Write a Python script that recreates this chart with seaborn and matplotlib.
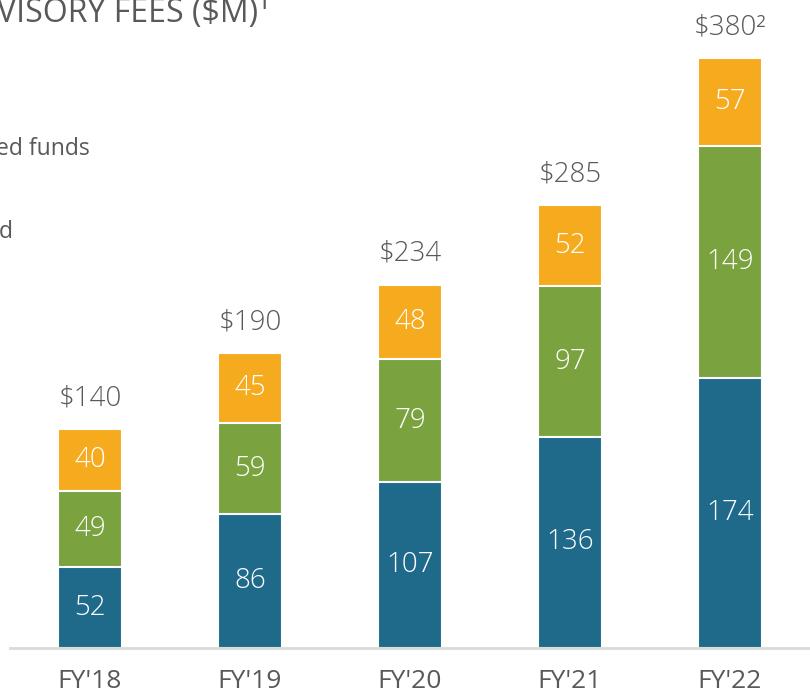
import seaborn as sns
import matplotlib.pyplot as plt
import pandas as pd
import numpy as np

sns.set_style("white")
plt.rcParams['font.family'] = ['Open Sans', 'DejaVu Sans']

# ---- Data ----
years = ["FY'18", "FY'19", "FY'20", "FY'21", "FY'22"]
blue_vals = [52, 86, 107, 136, 174]
green_vals = [49, 59, 79, 97, 149]
orange_vals = [40, 45, 48, 52, 57]
totals = [140, 190, 234, 285, 380]
total_labels = ["$140", "$190", "$234", "$285", "$380²"]

BLUE = "#1f6a8a"
GREEN = "#7aa340"
ORANGE = "#f6aa1e"
GREY = "#595959"

df = pd.DataFrame({"year": years, "blue": blue_vals, "green": green_vals, "orange": orange_vals})
df["bg"] = df["blue"] + df["green"]
df["all"] = df["bg"] + df["orange"]

fig = plt.figure(figsize=(8.1, 6.96), dpi=100)
ax = fig.add_axes([10 / 810, 48 / 696, 800 / 810, 648 / 696])

# stacked bars drawn back to front
for col, color in [("all", ORANGE), ("bg", GREEN), ("blue", BLUE)]:
    sns.barplot(data=df, x="year", y=col, color=color, width=0.40,
                edgecolor="white", linewidth=1.5, ax=ax, saturation=1)

# segment labels
for i in range(len(years)):
    b, g, o = blue_vals[i], green_vals[i], orange_vals[i]
    ax.text(i, b / 2, str(b), ha="center", va="center", color="white", fontsize=20, fontweight="light")
    ax.text(i, b + g / 2, str(g), ha="center", va="center", color="white", fontsize=20, fontweight="light")
    ax.text(i, b + g + o / 2, str(o), ha="center", va="center", color="white", fontsize=20, fontweight="light")
    ax.annotate(total_labels[i], (i, df["all"][i]), xytext=(0, 12), textcoords="offset points",
                ha="center", va="bottom", color=GREY, fontsize=20, fontweight="light")

ax.set_xlim(-0.5, 4.484)
ax.set_ylim(0, 417.3)
ax.set_xlabel("")
ax.set_ylabel("")
ax.set_yticks([])
for s in ["top", "right", "left"]:
    ax.spines[s].set_visible(False)
ax.spines["bottom"].set_color("#d9d9d9")
ax.spines["bottom"].set_linewidth(2)

ax.set_xticks(range(len(years)))
ax.set_xticklabels(years)
ax.set_xticks(np.arange(-0.5, 5, 1), minor=True)
ax.tick_params(axis="x", which="major", length=0, pad=15, labelsize=19, labelcolor=GREY)
ax.tick_params(axis="x", which="minor", length=12, width=1.5, color="#d9d9d9", direction="out")

# title and legend text as far as they show at the left edge of the image
fig.text(-3 / 810, 1 - 22 / 696, "VISORY FEES ($M)¹", ha="left", va="baseline",
         color=GREY, fontsize=23)
fig.text(-4 / 810, 1 - 155 / 696, "ed funds", ha="left", va="baseline",
         color=GREY, fontsize=16.5)
fig.text(-1 / 810, 1 - 238 / 696, "d", ha="left", va="baseline",
         color=GREY, fontsize=16.5)

fig.savefig("out.png", dpi=100)
plt.close()
